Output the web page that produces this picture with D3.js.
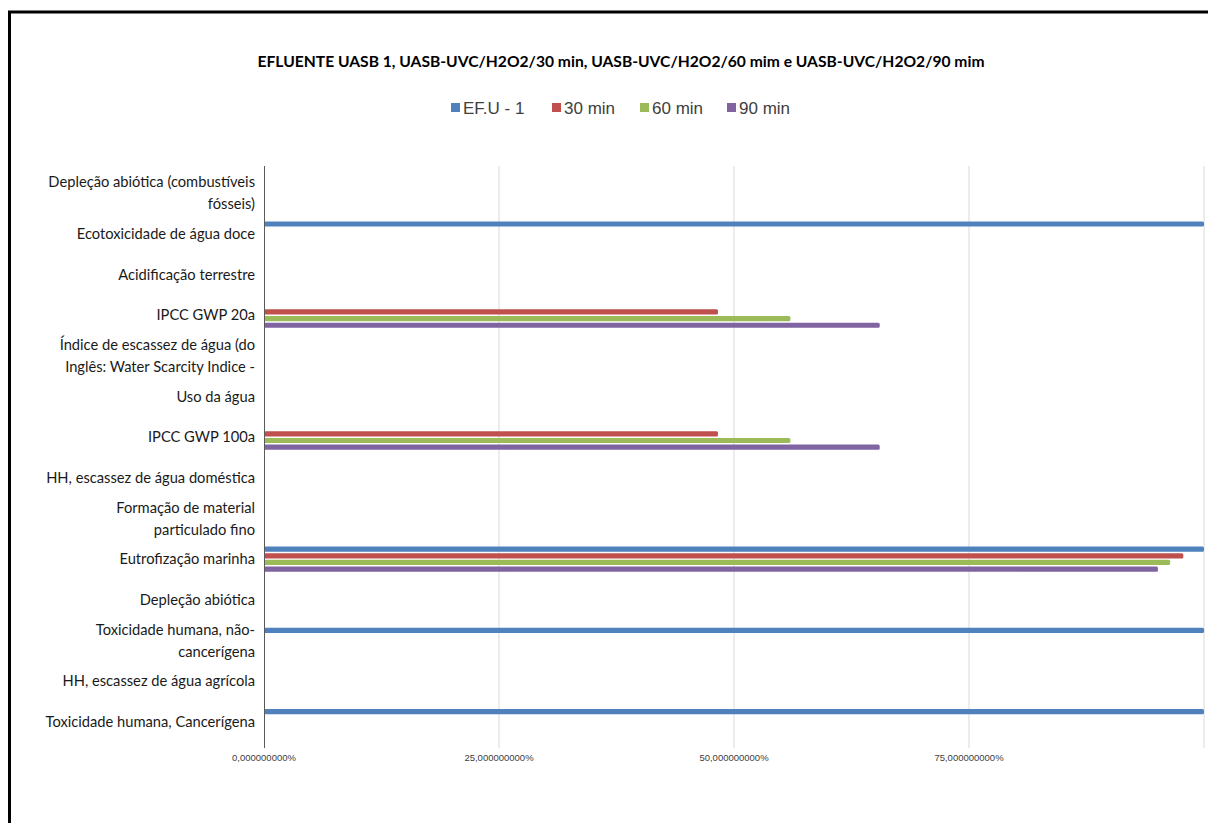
<!DOCTYPE html>
<html>
<head>
<meta charset="utf-8">
<script src="https://cdn.jsdelivr.net/npm/d3@7"></script>
<style>
  html, body { margin: 0; padding: 0; background: #fff; }
  svg { display: block; }
</style>
</head>
<body>
<svg id="chart" width="1208" height="823"></svg>
<script>
// Impact categories, listed top to bottom
const categories = [
  "Depleção abiótica (combustíveis fósseis)",
  "Ecotoxicidade de água doce",
  "Acidificação terrestre",
  "IPCC GWP 20a",
  "Índice de escassez de água (do Inglês: Water Scarcity Indice -",
  "Uso da água",
  "IPCC GWP 100a",
  "HH, escassez de água doméstica",
  "Formação de material particulado fino",
  "Eutrofização marinha",
  "Depleção abiótica",
  "Toxicidade humana, não-cancerígena",
  "HH, escassez de água agrícola",
  "Toxicidade humana, Cancerígena"
];

// Wrapped label lines for each category
const categoryLines = [
  ["Depleção abiótica (combustíveis", "fósseis)"],
  ["Ecotoxicidade de água doce"],
  ["Acidificação terrestre"],
  ["IPCC GWP 20a"],
  ["Índice de escassez de água (do", "Inglês: Water Scarcity Indice -"],
  ["Uso da água"],
  ["IPCC GWP 100a"],
  ["HH, escassez de água doméstica"],
  ["Formação de material", "particulado fino"],
  ["Eutrofização marinha"],
  ["Depleção abiótica"],
  ["Toxicidade humana, não-", "cancerígena"],
  ["HH, escassez de água agrícola"],
  ["Toxicidade humana, Cancerígena"]
];

// Series values (%)
const seriesNames = ["EF.U - 1", "30 min", "60 min", "90 min"];
const efu1   = [0, 100, 0, 0,    0, 0, 0,    0, 0, 100,  0, 100, 0, 100];
const min30  = [0, 0,   0, 48.3, 0, 0, 48.3, 0, 0, 97.8, 0, 0,   0, 0];
const min60  = [0, 0,   0, 56.0, 0, 0, 56.0, 0, 0, 96.4, 0, 0,   0, 0];
const min90  = [0, 0,   0, 65.5, 0, 0, 65.5, 0, 0, 95.1, 0, 0,   0, 0];
const seriesValues = [efu1, min30, min60, min90];
const colors = ["#4f81bd", "#c0504d", "#9bbb59", "#8064a2"];

// Axis ticks
const tickValues = [0, 25, 50, 75];
const gridValues = [25, 50, 75, 100];

const titleText = "EFLUENTE UASB 1, UASB-UVC/H2O2/30 min, UASB-UVC/H2O2/60 mim e UASB-UVC/H2O2/90 mim";

const svg = d3.select("#chart");

// Outer frame
svg.append("rect")
  .attr("x", 9.5).attr("y", 12)
  .attr("width", 1230).attr("height", 840)
  .attr("fill", "none")
  .attr("stroke", "#000")
  .attr("stroke-width", 3);

const plot = { left: 264, right: 1204, top: 173, bottom: 742 };

const x = d3.scaleLinear().domain([0, 100]).range([plot.left, plot.right]);
const y = d3.scaleBand().domain(categories).range([plot.top, plot.bottom])
  .paddingInner(0.31).paddingOuter(0.155);
const ySub = d3.scaleBand().domain(seriesNames).range([0, y.bandwidth()]).padding(0.22);

const gridTop = 166, gridBottom = 748;

// Gridlines
svg.append("g").selectAll("line")
  .data(gridValues)
  .join("line")
  .attr("x1", d => x(d)).attr("x2", d => x(d))
  .attr("y1", gridTop).attr("y2", gridBottom)
  .attr("stroke", "#d9d9d9")
  .attr("stroke-width", 1);

// Bars
const groups = svg.append("g").selectAll("g")
  .data(categories)
  .join("g")
  .attr("transform", d => `translate(0,${y(d)})`);

groups.selectAll("rect")
  .data((c, i) => seriesNames.map((s, k) => ({ s, v: seriesValues[k][i], color: colors[k] })))
  .join("rect")
  .filter(d => d.v > 0)
  .attr("x", x(0))
  .attr("y", d => ySub(d.s))
  .attr("width", d => x(d.v) - x(0))
  .attr("height", ySub.bandwidth())
  .attr("rx", 1.5)
  .attr("fill", d => d.color);

// Vertical category axis line
svg.append("line")
  .attr("x1", x(0) + 0.5).attr("x2", x(0) + 0.5)
  .attr("y1", gridTop).attr("y2", gridBottom)
  .attr("stroke", "#595959")
  .attr("stroke-width", 1);

// Category labels
const labelG = svg.append("g")
  .attr("font-family", "Lato, 'Open Sans', sans-serif")
  .attr("font-size", 14.7)
  .attr("fill", "#1a1a1a")
  .attr("text-anchor", "end");

categories.forEach((c, i) => {
  const lines = categoryLines[i];
  const cy = y(c) + y.bandwidth() / 2;
  const lh = 22;
  const t = labelG.append("text")
    .attr("x", 255)
    .attr("y", cy - (lines.length - 1) * lh / 2);
  lines.forEach((ln, j) => {
    t.append("tspan").attr("x", 255).attr("dy", j === 0 ? "0.35em" : lh).text(ln);
  });
});

// Value axis tick labels
const locale = d3.formatLocale({ decimal: ",", thousands: ".", grouping: [3], currency: ["", ""] });
const fmt = locale.format(".9f");
svg.append("g")
  .attr("font-family", "'Liberation Sans Narrow', 'Liberation Sans', sans-serif")
  .attr("font-size", 9.5)
  .attr("fill", "#404040")
  .attr("text-anchor", "middle")
  .selectAll("text")
  .data(tickValues)
  .join("text")
  .attr("x", d => x(d))
  .attr("y", 761)
  .text(d => fmt(d) + "%");

// Title
svg.append("text")
  .attr("x", 621).attr("y", 67)
  .attr("text-anchor", "middle")
  .attr("font-family", "Lato, 'Open Sans', sans-serif")
  .attr("font-weight", "bold")
  .attr("font-size", 14.5)
  .attr("fill", "#000")
  .attr("textLength", 727)
  .attr("lengthAdjust", "spacingAndGlyphs")
  .text(titleText);

// Legend
const legendX = [451, 552, 640, 727];
const legend = svg.append("g")
  .attr("font-family", "'Liberation Sans', Arial, sans-serif")
  .attr("font-size", 17)
  .attr("fill", "#404040");
seriesNames.forEach((s, k) => {
  legend.append("rect")
    .attr("x", legendX[k]).attr("y", 103)
    .attr("width", 9).attr("height", 9)
    .attr("fill", colors[k]);
  legend.append("text")
    .attr("x", legendX[k] + 12).attr("y", 114)
    .text(s);
});
</script>
</body>
</html>
